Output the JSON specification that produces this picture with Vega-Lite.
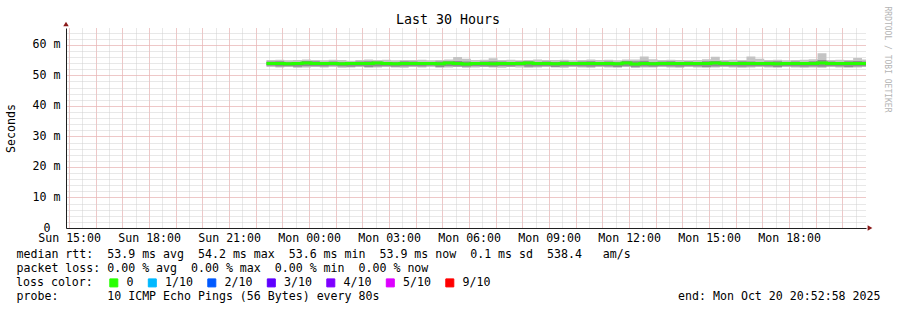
{
  "$schema": "https://vega.github.io/schema/vega-lite/v6.json",
  "width": 800,
  "height": 200,
  "autosize": {"type": "none"},
  "padding": {"left": 66, "top": 28, "right": 31, "bottom": 82},
  "background": "white",
  "config": {"view": {"stroke": null}, "font": "DejaVu Sans Mono"},
  "title": {"text": "Last 30 Hours", "font": "DejaVu Sans Mono", "fontSize": 13.3, "fontWeight": "normal", "color": "black", "anchor": "middle", "frame": "group", "baseline": "alphabetic", "dx": -18, "dy": 36, "offset": 5},
  "data": {"values": [
    {"t": "2025-10-19T22:24:00", "lo": 52.7, "hi": 55.0, "dlo": 53.1, "dhi": 54.5, "med": 53.9, "loss": "0"},
    {"t": "2025-10-19T22:44:00", "lo": 52.6, "hi": 55.1, "dlo": 52.9, "dhi": 54.6, "med": 53.9, "loss": "0"},
    {"t": "2025-10-19T23:04:00", "lo": 52.7, "hi": 54.9, "dlo": 53.0, "dhi": 54.3, "med": 53.8, "loss": "0"},
    {"t": "2025-10-19T23:24:00", "lo": 52.5, "hi": 55.0, "dlo": 52.8, "dhi": 54.4, "med": 53.9, "loss": "0"},
    {"t": "2025-10-19T23:44:00", "lo": 52.6, "hi": 55.2, "dlo": 53.0, "dhi": 54.7, "med": 54.0, "loss": "0"},
    {"t": "2025-10-20T00:04:00", "lo": 52.7, "hi": 55.0, "dlo": 53.0, "dhi": 54.6, "med": 53.9, "loss": "0"},
    {"t": "2025-10-20T00:24:00", "lo": 52.6, "hi": 54.9, "dlo": 52.9, "dhi": 54.4, "med": 53.9, "loss": "0"},
    {"t": "2025-10-20T00:44:00", "lo": 52.7, "hi": 55.1, "dlo": 53.1, "dhi": 54.5, "med": 53.9, "loss": "0"},
    {"t": "2025-10-20T01:04:00", "lo": 52.5, "hi": 55.0, "dlo": 52.9, "dhi": 54.3, "med": 53.8, "loss": "0"},
    {"t": "2025-10-20T01:24:00", "lo": 52.6, "hi": 54.8, "dlo": 52.8, "dhi": 54.4, "med": 53.9, "loss": "0"},
    {"t": "2025-10-20T01:44:00", "lo": 52.7, "hi": 55.0, "dlo": 53.0, "dhi": 54.5, "med": 53.9, "loss": "0"},
    {"t": "2025-10-20T02:04:00", "lo": 52.5, "hi": 55.2, "dlo": 52.7, "dhi": 54.6, "med": 53.9, "loss": "0"},
    {"t": "2025-10-20T02:24:00", "lo": 52.6, "hi": 55.0, "dlo": 52.9, "dhi": 54.5, "med": 54.0, "loss": "0"},
    {"t": "2025-10-20T02:44:00", "lo": 52.7, "hi": 55.1, "dlo": 53.0, "dhi": 54.4, "med": 53.9, "loss": "0"},
    {"t": "2025-10-20T03:04:00", "lo": 52.6, "hi": 54.9, "dlo": 52.8, "dhi": 54.3, "med": 53.8, "loss": "0"},
    {"t": "2025-10-20T03:24:00", "lo": 52.5, "hi": 55.0, "dlo": 52.9, "dhi": 54.6, "med": 53.9, "loss": "0"},
    {"t": "2025-10-20T03:44:00", "lo": 52.7, "hi": 55.0, "dlo": 53.0, "dhi": 54.5, "med": 53.9, "loss": "0"},
    {"t": "2025-10-20T04:04:00", "lo": 52.6, "hi": 55.1, "dlo": 52.9, "dhi": 54.4, "med": 53.9, "loss": "0"},
    {"t": "2025-10-20T04:24:00", "lo": 52.7, "hi": 54.9, "dlo": 53.1, "dhi": 54.3, "med": 53.9, "loss": "0"},
    {"t": "2025-10-20T04:44:00", "lo": 52.5, "hi": 55.0, "dlo": 52.7, "dhi": 54.5, "med": 53.8, "loss": "0"},
    {"t": "2025-10-20T05:04:00", "lo": 52.6, "hi": 55.2, "dlo": 53.0, "dhi": 54.6, "med": 54.0, "loss": "0"},
    {"t": "2025-10-20T05:24:00", "lo": 52.7, "hi": 56.0, "dlo": 52.9, "dhi": 54.7, "med": 53.9, "loss": "0"},
    {"t": "2025-10-20T05:44:00", "lo": 52.5, "hi": 55.4, "dlo": 52.8, "dhi": 54.5, "med": 53.7, "loss": "0"},
    {"t": "2025-10-20T06:04:00", "lo": 52.6, "hi": 55.0, "dlo": 53.0, "dhi": 54.4, "med": 53.9, "loss": "0"},
    {"t": "2025-10-20T06:24:00", "lo": 52.7, "hi": 55.1, "dlo": 52.9, "dhi": 54.5, "med": 53.9, "loss": "0"},
    {"t": "2025-10-20T06:44:00", "lo": 52.6, "hi": 55.6, "dlo": 52.8, "dhi": 54.6, "med": 53.8, "loss": "0"},
    {"t": "2025-10-20T07:04:00", "lo": 52.5, "hi": 55.0, "dlo": 53.0, "dhi": 54.5, "med": 53.9, "loss": "0"},
    {"t": "2025-10-20T07:24:00", "lo": 52.7, "hi": 55.1, "dlo": 52.9, "dhi": 54.3, "med": 53.9, "loss": "0"},
    {"t": "2025-10-20T07:44:00", "lo": 52.6, "hi": 54.9, "dlo": 53.1, "dhi": 54.5, "med": 53.9, "loss": "0"},
    {"t": "2025-10-20T08:04:00", "lo": 52.5, "hi": 55.0, "dlo": 52.8, "dhi": 54.6, "med": 54.0, "loss": "0"},
    {"t": "2025-10-20T08:24:00", "lo": 52.6, "hi": 55.2, "dlo": 52.9, "dhi": 54.4, "med": 53.9, "loss": "0"},
    {"t": "2025-10-20T08:44:00", "lo": 52.7, "hi": 55.0, "dlo": 53.0, "dhi": 54.5, "med": 53.9, "loss": "0"},
    {"t": "2025-10-20T09:04:00", "lo": 52.6, "hi": 55.0, "dlo": 52.7, "dhi": 54.4, "med": 53.8, "loss": "0"},
    {"t": "2025-10-20T09:24:00", "lo": 52.5, "hi": 55.1, "dlo": 52.9, "dhi": 54.6, "med": 53.9, "loss": "0"},
    {"t": "2025-10-20T09:44:00", "lo": 52.7, "hi": 54.9, "dlo": 53.0, "dhi": 54.3, "med": 53.9, "loss": "0"},
    {"t": "2025-10-20T10:04:00", "lo": 52.6, "hi": 55.0, "dlo": 52.9, "dhi": 54.5, "med": 53.9, "loss": "0"},
    {"t": "2025-10-20T10:24:00", "lo": 52.5, "hi": 55.2, "dlo": 52.8, "dhi": 54.6, "med": 53.9, "loss": "0"},
    {"t": "2025-10-20T10:44:00", "lo": 52.7, "hi": 55.0, "dlo": 53.0, "dhi": 54.4, "med": 53.9, "loss": "0"},
    {"t": "2025-10-20T11:04:00", "lo": 52.6, "hi": 55.1, "dlo": 52.9, "dhi": 54.5, "med": 53.9, "loss": "0"},
    {"t": "2025-10-20T11:24:00", "lo": 52.5, "hi": 54.9, "dlo": 52.7, "dhi": 54.3, "med": 53.8, "loss": "0"},
    {"t": "2025-10-20T11:44:00", "lo": 52.7, "hi": 55.2, "dlo": 53.0, "dhi": 54.7, "med": 54.0, "loss": "0"},
    {"t": "2025-10-20T12:04:00", "lo": 52.4, "hi": 55.2, "dlo": 52.7, "dhi": 54.6, "med": 53.7, "loss": "0"},
    {"t": "2025-10-20T12:24:00", "lo": 52.6, "hi": 56.2, "dlo": 52.9, "dhi": 54.8, "med": 53.9, "loss": "0"},
    {"t": "2025-10-20T12:44:00", "lo": 52.6, "hi": 55.3, "dlo": 52.8, "dhi": 54.4, "med": 53.8, "loss": "0"},
    {"t": "2025-10-20T13:04:00", "lo": 52.7, "hi": 55.0, "dlo": 53.0, "dhi": 54.5, "med": 53.9, "loss": "0"},
    {"t": "2025-10-20T13:24:00", "lo": 52.6, "hi": 55.1, "dlo": 52.9, "dhi": 54.6, "med": 53.9, "loss": "0"},
    {"t": "2025-10-20T13:44:00", "lo": 52.5, "hi": 55.0, "dlo": 52.8, "dhi": 54.4, "med": 53.9, "loss": "0"},
    {"t": "2025-10-20T14:04:00", "lo": 52.7, "hi": 54.9, "dlo": 53.0, "dhi": 54.5, "med": 53.9, "loss": "0"},
    {"t": "2025-10-20T14:24:00", "lo": 52.6, "hi": 55.0, "dlo": 52.9, "dhi": 54.3, "med": 53.9, "loss": "0"},
    {"t": "2025-10-20T14:44:00", "lo": 52.5, "hi": 55.3, "dlo": 52.7, "dhi": 54.6, "med": 53.9, "loss": "0"},
    {"t": "2025-10-20T15:04:00", "lo": 52.6, "hi": 56.1, "dlo": 52.9, "dhi": 54.7, "med": 54.0, "loss": "0"},
    {"t": "2025-10-20T15:24:00", "lo": 52.7, "hi": 55.0, "dlo": 53.0, "dhi": 54.5, "med": 53.9, "loss": "0"},
    {"t": "2025-10-20T15:44:00", "lo": 52.6, "hi": 55.1, "dlo": 52.9, "dhi": 54.4, "med": 53.9, "loss": "0"},
    {"t": "2025-10-20T16:04:00", "lo": 52.5, "hi": 55.0, "dlo": 52.8, "dhi": 54.6, "med": 53.9, "loss": "0"},
    {"t": "2025-10-20T16:24:00", "lo": 52.6, "hi": 56.2, "dlo": 52.9, "dhi": 54.5, "med": 53.9, "loss": "0"},
    {"t": "2025-10-20T16:44:00", "lo": 52.7, "hi": 55.4, "dlo": 53.0, "dhi": 54.4, "med": 53.9, "loss": "0"},
    {"t": "2025-10-20T17:04:00", "lo": 52.6, "hi": 55.0, "dlo": 52.9, "dhi": 54.5, "med": 53.9, "loss": "0"},
    {"t": "2025-10-20T17:24:00", "lo": 52.5, "hi": 55.1, "dlo": 52.7, "dhi": 54.6, "med": 53.8, "loss": "0"},
    {"t": "2025-10-20T17:44:00", "lo": 52.7, "hi": 54.9, "dlo": 53.0, "dhi": 54.4, "med": 53.9, "loss": "0"},
    {"t": "2025-10-20T18:04:00", "lo": 52.6, "hi": 55.0, "dlo": 52.9, "dhi": 54.5, "med": 53.9, "loss": "0"},
    {"t": "2025-10-20T18:24:00", "lo": 52.5, "hi": 55.1, "dlo": 52.8, "dhi": 54.3, "med": 53.9, "loss": "0"},
    {"t": "2025-10-20T18:44:00", "lo": 52.6, "hi": 55.3, "dlo": 52.9, "dhi": 54.6, "med": 53.9, "loss": "0"},
    {"t": "2025-10-20T19:04:00", "lo": 52.5, "hi": 57.2, "dlo": 52.8, "dhi": 55.0, "med": 54.0, "loss": "0"},
    {"t": "2025-10-20T19:24:00", "lo": 52.7, "hi": 55.0, "dlo": 53.0, "dhi": 54.5, "med": 53.9, "loss": "0"},
    {"t": "2025-10-20T19:44:00", "lo": 52.6, "hi": 55.1, "dlo": 52.9, "dhi": 54.4, "med": 53.9, "loss": "0"},
    {"t": "2025-10-20T20:04:00", "lo": 52.5, "hi": 55.0, "dlo": 52.7, "dhi": 54.6, "med": 53.9, "loss": "0"},
    {"t": "2025-10-20T20:24:00", "lo": 52.6, "hi": 55.7, "dlo": 52.9, "dhi": 54.7, "med": 53.9, "loss": "0"},
    {"t": "2025-10-20T20:44:00", "lo": 52.7, "hi": 55.2, "dlo": 53.0, "dhi": 54.5, "med": 53.9, "loss": "0"},
    {"t": "2025-10-20T20:53:00", "lo": 52.7, "hi": 55.2, "dlo": 53.0, "dhi": 54.5, "med": 53.9, "loss": "0"}
  ]},
  "resolve": {"axis": {"x": "independent", "y": "independent"}},
  "layer": [
    {
      "mark": {"type": "area", "interpolate": "step-after", "color": "#c4c4c4"},
      "encoding": {
        "x": {"field": "t", "type": "temporal", "scale": {"domain": [{"year": 2025, "month": 10, "date": 19, "hours": 14, "minutes": 52, "seconds": 58}, {"year": 2025, "month": 10, "date": 20, "hours": 20, "minutes": 52, "seconds": 58}], "nice": false},
          "axis": {"orient": "bottom", "tickCount": 60, "grid": true, "gridColor": "#d0d0d0", "gridDash": [1, 1], "gridWidth": 1, "labels": false, "ticks": false, "domain": false,
            "title": "end: Mon Oct 20 20:52:58 2025", "titleFont": "DejaVu Sans Mono", "titleFontSize": 11.6, "titleFontWeight": "normal", "titleColor": "black", "titleAnchor": "end", "titleAlign": "right", "titleBaseline": "middle", "titleX": 814, "titleY": 68}},
        "y": {"field": "lo", "type": "quantitative", "scale": {"domain": [0, 65.5], "nice": false, "zero": false},
          "axis": {"orient": "left", "values": [0, 2, 4, 6, 8, 10, 12, 14, 16, 18, 20, 22, 24, 26, 28, 30, 32, 34, 36, 38, 40, 42, 44, 46, 48, 50, 52, 54, 56, 58, 60, 62, 64],
            "grid": true, "gridColor": "#d0d0d0", "gridDash": [1, 1], "gridWidth": 1, "ticks": false, "domain": false, "title": null,
            "labelExpr": "datum.value == 0 ? '0' : ''", "labelFont": "DejaVu Sans Mono", "labelFontSize": 11.6, "labelColor": "black", "labelPadding": 16, "labelBaseline": "middle", "labelDy": -1}},
        "y2": {"field": "hi"}
      }
    },
    {
      "mark": {"type": "area", "interpolate": "step-after", "color": "#8e8e8e"},
      "encoding": {
        "x": {"field": "t", "type": "temporal", "scale": {"domain": [{"year": 2025, "month": 10, "date": 19, "hours": 14, "minutes": 52, "seconds": 58}, {"year": 2025, "month": 10, "date": 20, "hours": 20, "minutes": 52, "seconds": 58}], "nice": false},
          "axis": {"orient": "bottom", "tickCount": 30, "grid": true, "gridColor": "#f4a8a8", "gridDash": [1, 1], "gridWidth": 1, "labels": false, "ticks": false, "domain": false,
            "title": "probe:\u00a0\u00a0\u00a0\u00a0\u00a0\u00a0\u00a010 ICMP Echo Pings (56 Bytes) every 80s", "titleFont": "DejaVu Sans Mono", "titleFontSize": 11.6, "titleFontWeight": "normal", "titleColor": "black", "titleAnchor": "start", "titleAlign": "left", "titleBaseline": "middle", "titleX": -50, "titleY": 68}},
        "y": {"field": "dlo", "type": "quantitative", "scale": {"domain": [0, 65.5], "nice": false, "zero": false},
          "axis": {"orient": "right", "grid": false, "labels": false, "ticks": false, "domain": false, "title": "RRDTOOL / TOBI OETIKER", "titleFont": "DejaVu Sans Mono", "titleFontSize": 8, "titleFontWeight": "normal", "titleColor": "#b4b4b4", "titleAngle": 90, "titleAlign": "center", "titleBaseline": "middle", "titleX": 20, "titleY": 31}},
        "y2": {"field": "dhi"}
      }
    },
    {
      "mark": {"type": "line", "interpolate": "step-after", "strokeWidth": 3},
      "encoding": {
        "x": {"field": "t", "type": "temporal", "scale": {"domain": [{"year": 2025, "month": 10, "date": 19, "hours": 14, "minutes": 52, "seconds": 58}, {"year": 2025, "month": 10, "date": 20, "hours": 20, "minutes": 52, "seconds": 58}], "nice": false},
          "axis": {"orient": "bottom", "tickCount": 10, "grid": false, "ticks": false, "domain": true, "domainColor": "#202020", "domainWidth": 1,
            "format": "%a %H:%M",
            "labelFlush": false, "labelFont": "DejaVu Sans Mono", "labelFontSize": 11.6, "labelColor": "black", "labelPadding": 4, "labelBaseline": "top",
            "title": ["median rtt:\u00a0\u00a053.9 ms avg\u00a0\u00a054.2 ms max\u00a0\u00a053.6 ms min\u00a0\u00a053.9 ms now\u00a0\u00a00.1 ms sd\u00a0\u00a0538.4\u00a0\u00a0\u00a0am/s", "packet loss: 0.00 % avg\u00a0\u00a00.00 % max\u00a0\u00a00.00 % min\u00a0\u00a00.00 % now"],
            "titleFont": "DejaVu Sans Mono", "titleFontSize": 11.6, "titleFontWeight": "normal", "titleColor": "black", "titleAnchor": "start", "titleAlign": "left", "titleBaseline": "top", "titleLineHeight": 14, "titleX": -50, "titleY": 20}},
        "y": {"field": "med", "type": "quantitative", "scale": {"domain": [0, 65.5], "nice": false, "zero": false},
          "axis": {"orient": "left", "values": [0, 10, 20, 30, 40, 50, 60],
            "grid": true, "gridColor": "#f4a8a8",
            "gridDash": [1, 1], "gridWidth": 1, "ticks": false, "domain": true, "domainColor": "#202020", "domainWidth": 1,
            "labelExpr": "datum.value == 0 ? '' : datum.value + ' m'",
            "labelFont": "DejaVu Sans Mono", "labelFontSize": 11.6, "labelColor": "black", "labelPadding": 6, "labelBaseline": "middle",
            "title": "Seconds", "titleFont": "DejaVu Sans Mono", "titleFontSize": 11.6, "titleFontWeight": "normal", "titleColor": "black", "titleAngle": -90, "titleAlign": "center", "titleBaseline": "middle", "titleX": -55, "titleY": 100}},
        "color": {"field": "loss", "type": "nominal",
          "scale": {"domain": ["0", "1/10", "2/10", "3/10", "4/10", "5/10", "9/10"], "range": ["#26ff00", "#00b8ff", "#0059ff", "#5e00ff", "#7e00ff", "#dd00ff", "#ff0000"]},
          "legend": {"orient": "none", "legendX": -50, "legendY": 249, "direction": "horizontal", "title": "loss color:", "titleOrient": "left", "titleFont": "DejaVu Sans Mono", "titleFontSize": 11.6, "titleFontWeight": "normal", "titleColor": "black", "titlePadding": 15,
            "labelFont": "DejaVu Sans Mono", "labelFontSize": 11.6, "labelColor": "black", "labelOffset": 7, "columnPadding": 11.5, "padding": 0,
            "symbolType": "square", "symbolSize": 64, "symbolStrokeWidth": 1, "symbolStrokeColor": "black",
            "encode": {"symbols": {"update": {"fill": {"scale": "color", "field": "value"}, "stroke": {"value": "black"}}}}}}
      }
    },
    {
      "data": {"values": [{"t": "2025-10-19T14:52:58", "v": 65.5}]},
      "mark": {"type": "point", "shape": "triangle-up", "filled": true, "color": "#8b1a1a", "size": 30, "opacity": 1, "yOffset": -4},
      "encoding": {
        "x": {"field": "t", "type": "temporal", "scale": {"domain": [{"year": 2025, "month": 10, "date": 19, "hours": 14, "minutes": 52, "seconds": 58}, {"year": 2025, "month": 10, "date": 20, "hours": 20, "minutes": 52, "seconds": 58}], "nice": false}, "axis": null},
        "y": {"field": "v", "type": "quantitative", "scale": {"domain": [0, 65.5], "nice": false, "zero": false}, "axis": null}
      }
    },
    {
      "data": {"values": [{"t": "2025-10-20T20:52:58", "v": 0}]},
      "mark": {"type": "point", "shape": "triangle-right", "filled": true, "color": "#8b1a1a", "size": 30, "opacity": 1, "xOffset": 4},
      "encoding": {
        "x": {"field": "t", "type": "temporal", "scale": {"domain": [{"year": 2025, "month": 10, "date": 19, "hours": 14, "minutes": 52, "seconds": 58}, {"year": 2025, "month": 10, "date": 20, "hours": 20, "minutes": 52, "seconds": 58}], "nice": false}, "axis": null},
        "y": {"field": "v", "type": "quantitative", "scale": {"domain": [0, 65.5], "nice": false, "zero": false}, "axis": null}
      }
    }
  ]
}
